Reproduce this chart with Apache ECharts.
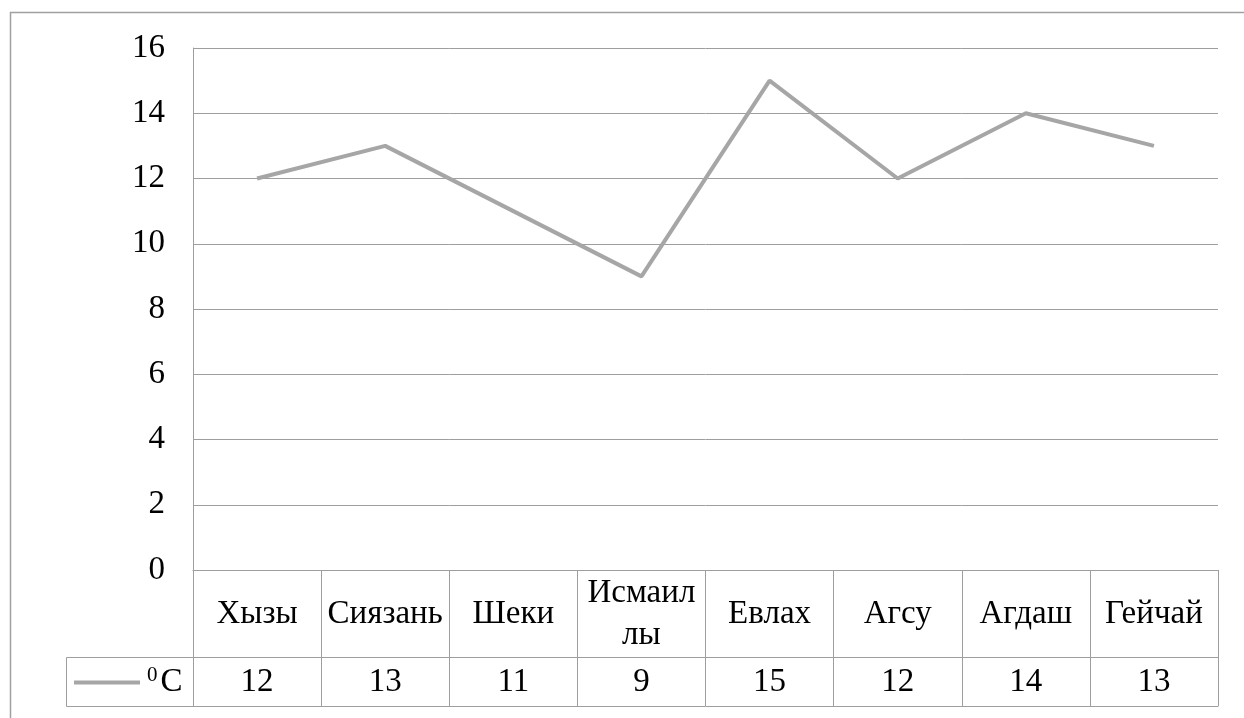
<!DOCTYPE html>
<html>
<head>
<meta charset="utf-8">
<script src="https://cdn.jsdelivr.net/npm/echarts@6/dist/echarts.min.js"></script>
<style>
  html, body { margin: 0; padding: 0; background: #fff; }
  #chart { width: 1244px; height: 718px; }
</style>
</head>
<body>
<div id="chart"></div>
<script>
// Average temperature by district
const categories = ['Хызы', 'Сиязань', 'Шеки', 'Исмаилы', 'Евлах', 'Агсу', 'Агдаш', 'Гейчай'];
const temperatures = [12, 13, 11, 9, 15, 12, 14, 13];
const seriesName = '°C';
const yTicks = { min: 0, max: 16, interval: 2 };

const FONT = 'Liberation Serif';
const GRID = '#9E9E9E';
const LINE = '#A6A6A6';
const FS = 33;

const chart = echarts.init(document.getElementById('chart'), null, { renderer: 'canvas' });

chart.setOption({
  animation: false,
  backgroundColor: '#ffffff',
  textStyle: { fontFamily: FONT, color: '#000' },
  grid: { left: 193, right: 26, top: 48, bottom: 148, containLabel: false },
  legend: {
    left: 74, top: 665, padding: 0,
    itemWidth: 66, itemHeight: 4, itemGap: 0,
    icon: 'rect',
    data: [{ name: seriesName }],
    formatter: () => '{s|0}{c|C}',
    textStyle: {
      fontFamily: FONT, color: '#000', fontSize: FS,
      rich: {
        s: { fontFamily: FONT, fontSize: 21, verticalAlign: 'top', padding: [0, 3, 14, 2], color: '#000' },
        c: { fontFamily: FONT, fontSize: FS, color: '#000' }
      }
    }
  },
  xAxis: [
    {
      // category row of the data table
      type: 'category',
      data: categories,
      boundaryGap: true,
      axisLine: { show: true, lineStyle: { color: GRID, width: 1 } },
      axisTick: { show: true, interval: 0, length: 87, lineStyle: { color: GRID, width: 1 } },
      axisLabel: {
        interval: 0,
        margin: 44,
        verticalAlign: 'middle',
        lineHeight: 42,
        fontFamily: FONT, fontSize: FS, color: '#000',
        formatter: v => v === 'Исмаилы' ? 'Исмаил\nлы' : v
      },
      splitLine: { show: false }
    },
    {
      // value row of the data table
      type: 'category',
      position: 'bottom',
      offset: 87,
      data: temperatures.map(String),
      boundaryGap: true,
      axisLine: { show: true, lineStyle: { color: GRID, width: 1 } },
      axisTick: { show: true, interval: 0, length: 49, lineStyle: { color: GRID, width: 1 } },
      axisLabel: {
        interval: 0,
        margin: 25,
        verticalAlign: 'middle',
        fontFamily: FONT, fontSize: FS, color: '#000'
      }
    },
    {
      // bottom edge of the data table
      type: 'category',
      position: 'bottom',
      offset: 136,
      data: categories,
      axisLine: { show: true, lineStyle: { color: GRID, width: 1 } },
      axisTick: { show: false },
      axisLabel: { show: false }
    }
  ],
  yAxis: {
    type: 'value',
    min: yTicks.min, max: yTicks.max, interval: yTicks.interval,
    axisLine: { show: true, lineStyle: { color: GRID, width: 1 } },
    axisTick: { show: false },
    axisLabel: { margin: 28, fontFamily: FONT, fontSize: FS, color: '#000' },
    splitLine: { show: true, lineStyle: { color: GRID, width: 1 } }
  },
  series: [{
    name: seriesName,
    type: 'line',
    data: temperatures,
    symbol: 'none',
    itemStyle: { color: LINE },
    lineStyle: { color: LINE, width: 4 }
  }],
  graphic: [
    {
      // outer chart frame
      type: 'rect', silent: true, z: -1,
      shape: { x: 10.5, y: 12.5, width: 1300, height: 800 },
      style: { fill: 'none', stroke: '#A0A0A0', lineWidth: 1.5 }
    },
    {
      // legend key cell of the data table
      type: 'rect', silent: true,
      shape: { x: 66.5, y: 657.5, width: 127, height: 49 },
      style: { fill: 'none', stroke: GRID, lineWidth: 1 }
    }
  ]
});
</script>
</body>
</html>
